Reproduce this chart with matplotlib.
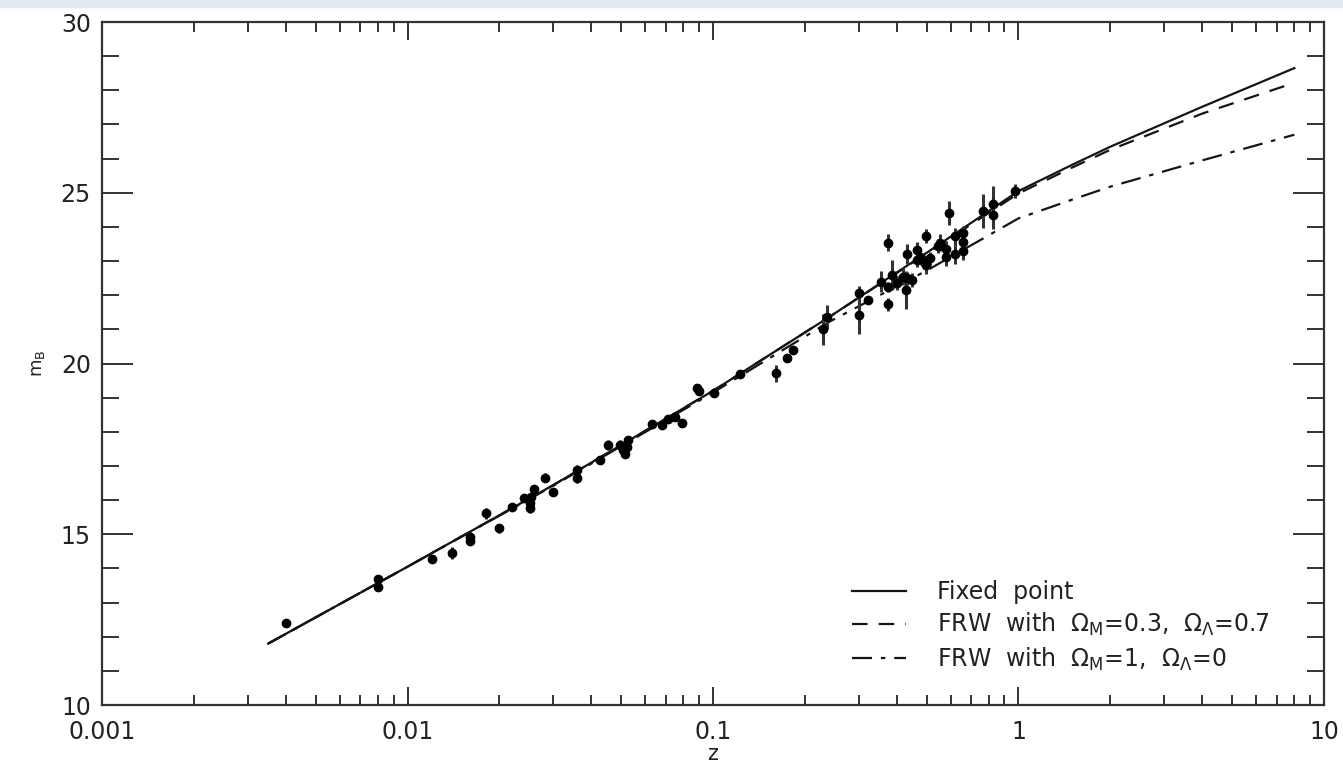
import numpy as np
import matplotlib.pyplot as plt
from matplotlib.patches import Rectangle
from matplotlib.ticker import FixedLocator, MultipleLocator, NullFormatter

# supernova data
z_sn = [0.0040, 0.0080, 0.0080, 0.0120, 0.0140, 0.0160, 0.0160, 0.0181, 0.0199, 0.0220,
        0.0240, 0.0252, 0.0254, 0.0259, 0.0252, 0.0281, 0.0300, 0.0360, 0.0360, 0.0428,
        0.0452, 0.0496, 0.0509, 0.0515, 0.0528, 0.0524, 0.0630, 0.0679, 0.0715, 0.0751,
        0.0792, 0.0885, 0.0902, 0.1009, 0.1225, 0.1607, 0.175, 0.183,
        0.2296, 0.2357, 0.3007, 0.3007, 0.3206, 0.354, 0.375, 0.375, 0.375, 0.385,
        0.401, 0.420, 0.428, 0.433, 0.433, 0.447, 0.465, 0.465, 0.476, 0.489,
        0.498, 0.498, 0.513, 0.546, 0.553, 0.579, 0.579, 0.594, 0.619, 0.619,
        0.656, 0.656, 0.656, 0.764, 0.827, 0.827, 0.974]
m_sn = [12.40, 13.68, 13.46, 14.27, 14.46, 14.93, 14.81, 15.61, 15.17, 15.81,
        16.05, 15.91, 16.10, 16.32, 15.76, 16.66, 16.23, 16.88, 16.64, 17.17,
        17.61, 17.61, 17.47, 17.35, 17.76, 17.55, 18.23, 18.20, 18.37, 18.44,
        18.25, 19.27, 19.20, 19.15, 19.69, 19.72, 20.17, 20.40,
        21.00, 21.37, 22.06, 21.42, 21.86, 22.40, 23.54, 22.25, 21.73, 22.59,
        22.35, 22.54, 22.15, 23.21, 22.49, 22.45, 23.32, 23.03, 23.13, 22.98,
        23.73, 22.88, 23.08, 23.44, 23.54, 23.34, 23.11, 24.42, 23.73, 23.20,
        23.83, 23.57, 23.29, 24.47, 24.66, 24.35, 25.06]
m_err = [0.05, 0.08, 0.08, 0.12, 0.18, 0.15, 0.12, 0.15, 0.12, 0.08,
         0.10, 0.15, 0.12, 0.12, 0.15, 0.12, 0.12, 0.15, 0.15, 0.10,
         0.15, 0.15, 0.12, 0.12, 0.10, 0.15, 0.12, 0.10, 0.10, 0.10,
         0.12, 0.10, 0.10, 0.12, 0.08, 0.25, 0.10, 0.10,
         0.46, 0.35, 0.20, 0.56, 0.12, 0.30, 0.25, 0.15, 0.20, 0.45,
         0.20, 0.25, 0.55, 0.30, 0.20, 0.20, 0.25, 0.20, 0.20, 0.20,
         0.20, 0.25, 0.20, 0.20, 0.25, 0.25, 0.25, 0.35, 0.25, 0.30,
         0.20, 0.25, 0.25, 0.50, 0.55, 0.40, 0.20]

# model curves
z_curve = [0.0035, 0.01, 0.03, 0.1, 0.24, 0.5, 1.0, 1.5, 2.0, 4.0, 8.0]
m_fixed = [11.80, 14.05, 16.44, 19.20, 21.36, 23.24, 25.05, 25.82, 26.35, 27.52, 28.65]
m_lcdm = [11.80, 14.05, 16.44, 19.20, 21.36, 23.22, 24.98, 25.74, 26.26, 27.32, 28.22]
m_eds = [11.80, 14.05, 16.42, 19.15, 21.22, 22.72, 24.25, 24.80, 25.18, 25.95, 26.70]

labels = ['Fixed  point',
          r'FRW  with  $\Omega_{\rm M}$=0.3,  $\Omega_{\Lambda}$=0.7',
          r'FRW  with  $\Omega_{\rm M}$=1,  $\Omega_{\Lambda}$=0']

plt.rcParams['font.family'] = ['DejaVu Sans']
plt.rcParams['mathtext.fontset'] = 'dejavusans'

fig = plt.figure(figsize=(13.43, 7.7), dpi=100)
fig.patches.append(Rectangle((0, 0.991), 1, 0.009, transform=fig.transFigure,
                             color='#e3e9f1', zorder=0))
ax = fig.add_axes([0.076, 0.0844, 0.9098, 0.887])

ink = '#151515'
ax.plot(z_curve, m_fixed, color=ink, lw=1.6, ls='-', label=labels[0])
ax.plot(z_curve, m_lcdm, color=ink, lw=1.6, ls=(0, (7, 5)), label=labels[1])
ax.plot(z_curve, m_eds, color=ink, lw=1.6, ls=(0, (9, 4, 2, 4)), label=labels[2])

ax.errorbar(z_sn, m_sn, yerr=m_err, fmt='o', color='black', ms=6,
            ecolor='#333333', elinewidth=2.2, capsize=0, zorder=3)

ax.set_xscale('log')
ax.set_xlim(0.001, 10)
ax.set_ylim(10, 30)
ax.xaxis.set_major_locator(FixedLocator([0.001, 0.01, 0.1, 1, 10]))
ax.set_xticklabels(['0.001', '0.01', '0.1', '1', '10'])
minors = [k * 10.0 ** e for e in range(-3, 1) for k in range(2, 10)]
ax.xaxis.set_minor_locator(FixedLocator(minors))
ax.xaxis.set_minor_formatter(NullFormatter())
ax.yaxis.set_major_locator(MultipleLocator(5))
ax.yaxis.set_minor_locator(MultipleLocator(1))

ax.tick_params(axis='both', which='both', direction='in', top=True, right=True,
               colors='#333333', labelcolor='#222222', labelsize=17, width=1.4)
ax.tick_params(axis='x', which='major', length=13, pad=11)
ax.tick_params(axis='x', which='minor', length=7)
ax.tick_params(axis='y', which='major', length=22, pad=8)
ax.tick_params(axis='y', which='minor', length=12)
for s in ax.spines.values():
    s.set_color('#333333')
    s.set_linewidth(1.6)

ax.set_xlabel('z', fontsize=15, color='#222222', labelpad=0)
ax.set_ylabel(r'm$_{\rm B}$', fontsize=13, color='#222222')
ax.yaxis.set_label_coords(-0.045, 0.5)

leg = ax.legend(loc='lower right', bbox_to_anchor=(0.965, 0.03), frameon=False,
                fontsize=17, handlelength=2.3, handletextpad=1.3, labelspacing=0.3,
                borderpad=0)
for t in leg.get_texts():
    t.set_color('#222222')

fig.savefig('out.png', dpi=100)
